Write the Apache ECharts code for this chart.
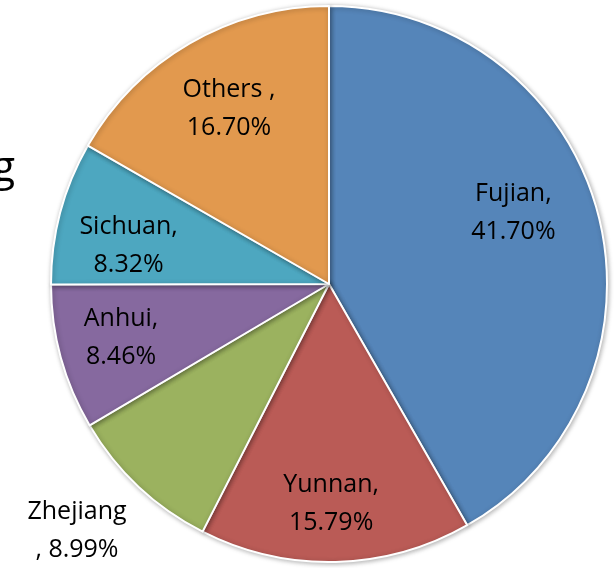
<!DOCTYPE html>
<html><head><meta charset="utf-8">
<script src="https://cdn.jsdelivr.net/npm/echarts@6/dist/echarts.min.js"></script>
<style>html,body{margin:0;padding:0;background:#fff}#c{width:615px;height:568px}</style>
</head><body><div id="c"></div>
<script>
const categories = ['Fujian', 'Yunnan', 'Zhejiang', 'Anhui', 'Sichuan', 'Others'];
const values = [41.70, 15.79, 8.99, 8.46, 8.32, 16.70];
const labelTexts = ['Fujian,\n41.70%', 'Yunnan,\n15.79%', 'Zhejiang\n, 8.99%', 'Anhui,\n8.46%', 'Sichuan,\n8.32%', 'Others ,\n16.70%'];
const colors = ['#5585B9', '#BA5B56', '#9BB25F', '#86699F', '#4DA7C0', '#E2994E'];

const chart = echarts.init(document.getElementById('c'));
const R = 278;
const center = [329, 284];
const font = '"Open Sans", Lato, sans-serif';
// small nudges so labels sit where the original places them
const labelNudge = [[-20, -17], [-3, 8], [0, 0], [-4, -2], [4, 16], [6, 8]];

chart.setOption({
  animation: false,
  graphic: [{
    type: 'text', right: 600, top: 148,
    style: { text: 'g', fontSize: 42, fontFamily: font, fill: '#000', align: 'right' }
  }],
  series: [{
    type: 'pie',
    center: center,
    radius: [0, R],
    startAngle: 90,
    clockwise: true,
    label: { show: false },
    labelLine: { show: false },
    emphasis: { disabled: true },
    itemStyle: { borderColor: '#fff', borderWidth: 2, shadowBlur: 5, shadowColor: 'rgba(0,0,0,0.3)', shadowOffsetX: 1, shadowOffsetY: 1 },
    data: categories.map((c, i) => ({ name: c, value: values[i], itemStyle: { color: colors[i] } }))
  }, {
    type: 'pie',
    center: center,
    radius: [R * 0.5, R],
    startAngle: 90,
    clockwise: true,
    silent: true,
    z: 5,
    itemStyle: { color: 'transparent' },
    emphasis: { disabled: true },
    label: {
      show: true, position: 'inside', color: '#000', fontSize: 25, lineHeight: 38,
      fontFamily: font,
      formatter: p => labelTexts[p.dataIndex]
    },
    labelLine: { show: false },
    labelLayout: function (p) {
      if (p.dataIndex === 2) return { x: 77, y: 531, align: 'center', verticalAlign: 'middle' };
      const n = labelNudge[p.dataIndex];
      return { dx: n[0], dy: n[1] };
    },
    data: categories.map((c, i) => ({ name: c, value: values[i] }))
  }]
});
</script></body></html>
